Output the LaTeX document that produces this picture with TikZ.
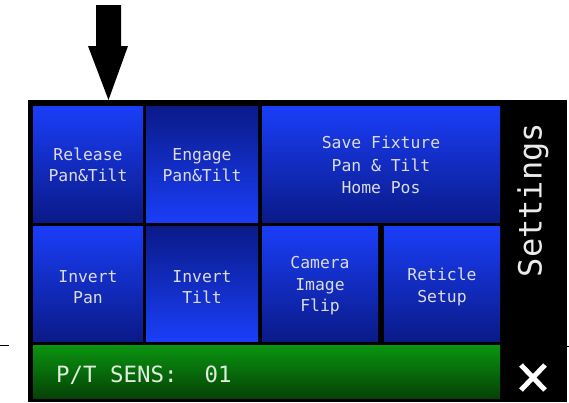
\documentclass[tikz,border=0pt]{standalone}
\usepackage{fontspec}
\newfontfamily\monofnt{DejaVu Sans Mono}
\definecolor{btnhi}{HTML}{1A3EF8}
\definecolor{btnlo}{HTML}{0A1A88}
\definecolor{btntxt}{HTML}{DCDCE4}
\definecolor{grnhi}{HTML}{0A9410}
\definecolor{grnlo}{HTML}{054206}
\definecolor{grntxt}{HTML}{DCEEDC}
\tikzset{
  btnup/.style={top color=btnhi, bottom color=btnlo},
  btndown/.style={top color=btnlo, bottom color=btnhi},
  btnlabel/.style={text=btntxt, align=center, font=\monofnt\fontsize{16.4}{21.5}\selectfont},
  tick/.style={black, line width=0.8pt},
  closemark/.style={white, line width=5pt},
}
\begin{document}
\begin{tikzpicture}[x=1pt, y=-1pt]
\useasboundingbox (0,0) rectangle (569,402);
% outer panel
\fill[black] (28,100) rectangle (567,402);
% pointer arrow
\fill[black] (96,5) -- (121,5) -- (121,46) -- (128,46) -- (108.5,100) -- (88,46) -- (96,46) -- cycle;
% side ticks
\draw[tick] (0,345) -- (9,345);
\draw[tick] (566,346) -- (569,346);
% row 1
\shade[btnup] (33,106) rectangle (143,222);
\node[btnlabel] (rel) at (88,165) {Release\\Pan\&Tilt};
\shade[btndown] (146,106) rectangle (258,222);
\node[btnlabel] (eng) at (202,165) {Engage\\Pan\&Tilt};
\shade[btnup] (262,106) rectangle (500,222);
\node[btnlabel, font=\monofnt\fontsize{16.4}{22.5}\selectfont] (save) at (381,165) {Save Fixture\\Pan \& Tilt\\Home Pos};
% row 2
\shade[btnup] (33,226) rectangle (143,341);
\node[btnlabel] (ipan) at (88,287) {Invert\\Pan};
\shade[btndown] (146,226) rectangle (258,341);
\node[btnlabel] (itilt) at (202,287) {Invert\\Tilt};
\shade[btnup] (262,226) rectangle (378,341);
\node[btnlabel] (cam) at (320,286) {Camera\\Image\\Flip};
\shade[btnup] (384,226) rectangle (500,341);
\node[btnlabel] (ret) at (442,287) {Reticle\\Setup};
% green bar
\shade[top color=grnhi, bottom color=grnlo] (33,345) rectangle (500,398);
\node[anchor=base west, inner sep=0pt, text=grntxt, font=\monofnt\fontsize{22.4}{26}\selectfont] (sens) at (56,382) {P/T SENS:\ \ 01};
% side column
\node[rotate=90, text=white!92!black, inner sep=0pt, font=\monofnt\fontsize{32}{36}\selectfont] (set) at (533,200) {Settings};
\coordinate (xa) at (521,365);
\coordinate (xb) at (545,390);
\coordinate (xc) at (545,365);
\coordinate (xd) at (521,390);
\draw[closemark] (xa) -- (xb);
\draw[closemark] (xc) -- (xd);
\end{tikzpicture}
\end{document}
